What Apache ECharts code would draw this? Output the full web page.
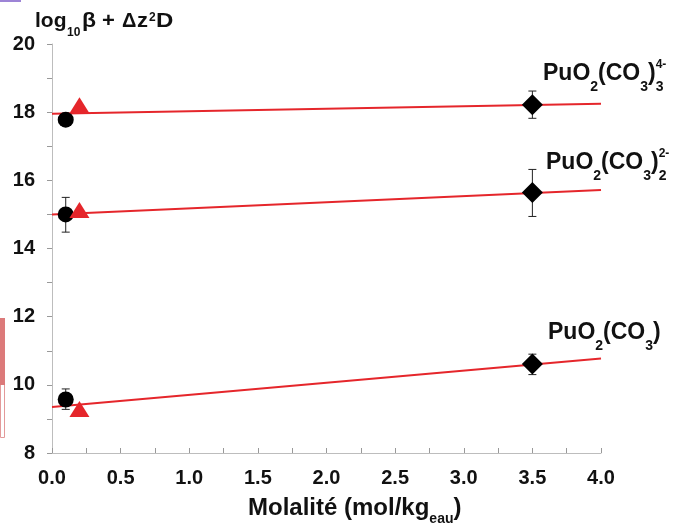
<!DOCTYPE html>
<html><head><meta charset="utf-8">
<script src="https://cdn.jsdelivr.net/npm/echarts@6/dist/echarts.min.js"></script>
<style>html,body{margin:0;padding:0;background:#fff}#c{width:692px;height:526px}</style>
</head><body><div id="c"></div>
<script>
// ---- data ----
const circleX = [0.1, 0.1, 0.1];
const circleY = [17.78, 15.0, 9.57];
const circleErrX = [0.1, 0.1];
const circleErrLo = [14.48, 9.28];
const circleErrHi = [15.5, 9.88];

const triangleX = [0.2, 0.2, 0.2];
const triangleY = [18.2, 15.13, 9.29];

const diamondX = [3.5, 3.5, 3.5];
const diamondY = [18.22, 15.64, 10.61];
const diamondErrLo = [17.82, 14.94, 10.3];
const diamondErrHi = [18.62, 16.32, 10.9];

const fitX = [0, 4];
const fitTop = [17.95, 18.25];
const fitMid = [15.0, 15.72];
const fitLow = [9.35, 10.77];

const xMin = 0, xMax = 4, xStep = 0.5;
const yMin = 8, yMax = 20, yStep = 2;

// ---- helpers ----
const FONT = '"Liberation Sans", Arial, Helvetica, sans-serif';
const ctx = document.createElement('canvas').getContext('2d');
function midOffset(s) {
  ctx.font = 'bold ' + s + 'px ' + FONT;
  const m = ctx.measureText('Hg');
  if (m.fontBoundingBoxAscent !== undefined) return (m.fontBoundingBoxAscent - m.fontBoundingBoxDescent) / 2;
  return 0.35 * s;
}
function textWidth(t, s) {
  ctx.font = 'bold ' + s + 'px ' + FONT;
  return ctx.measureText(t).width;
}
// parts: {t, s, dy, stack, at, sx}
function run(x0, baseline, parts) {
  let x = x0, prevX = x0, els = [];
  parts.forEach(p => {
    const px = p.at !== undefined ? p.at : (p.stack ? prevX : x);
    const by = baseline + (p.dy || 0);
    const sx = p.sx || 1;
    els.push({
      type: 'text', z: 100,
      x: px, y: by - midOffset(p.s), scaleX: sx,
      style: { text: p.t, fontSize: p.s, fontWeight: 'bold', fontFamily: FONT, fill: '#111', align: 'left', verticalAlign: 'middle' }
    });
    const w = textWidth(p.t, p.s) * sx;
    if (p.stack) { x = Math.max(x, px + w); }
    else { prevX = px; x = px + w; }
  });
  return els;
}

const zip = (a, b) => a.map((v, i) => [v, b[i]]);
const zip3 = (a, b, c) => a.map((v, i) => [v, b[i], c[i]]);

function errRender(params, api) {
  const x = api.value(0), lo = api.value(1), hi = api.value(2);
  const p1 = api.coord([x, hi]), p2 = api.coord([x, lo]);
  const w = 4;
  const st = { stroke: '#222', lineWidth: 1 };
  return { type: 'group', children: [
    { type: 'line', shape: { x1: p1[0], y1: p1[1], x2: p2[0], y2: p2[1] }, style: st },
    { type: 'line', shape: { x1: p1[0] - w, y1: p1[1], x2: p1[0] + w, y2: p1[1] }, style: st },
    { type: 'line', shape: { x1: p2[0] - w, y1: p2[1], x2: p2[0] + w, y2: p2[1] }, style: st }
  ]};
}

const RED = '#e5262b';
const lineSeries = (d) => ({
  type: 'line', data: zip(fitX, d), symbol: 'none', z: 2,
  lineStyle: { color: RED, width: 2 }, silent: true
});

const graphics = [].concat(
  // y axis title
  run(35, 28, [
    { t: 'log', s: 20, sx: 1.05 }, { t: '10', s: 12, dy: 9, at: 67 }, { t: 'β', s: 20, at: 82, sx: 1.15 },
    { t: '+', s: 20, at: 102, sx: 1.1 }, { t: 'Δ', s: 20, at: 122 }, { t: 'z', s: 20, at: 137, sx: 1.1 },
    { t: '2', s: 12, dy: -6, at: 149 }, { t: 'D', s: 20, at: 156, sx: 1.2 }
  ]),
  // x axis title
  run(248, 517, [
    { t: 'Molalité (mol/kg', s: 24 }, { t: 'eau', s: 14, dy: 7 }, { t: ')', s: 24 }
  ]),
  run(543, 82, [
    { t: 'PuO', s: 23 }, { t: '2', s: 14, dy: 10 }, { t: '(CO', s: 23 }, { t: '3', s: 14, dy: 10 },
    { t: ')', s: 23 }, { t: '4-', s: 12, dy: -13 }, { t: '3', s: 14, dy: 10, stack: true }
  ]),
  run(546, 171, [
    { t: 'PuO', s: 23 }, { t: '2', s: 14, dy: 10 }, { t: '(CO', s: 23 }, { t: '3', s: 14, dy: 10 },
    { t: ')', s: 23 }, { t: '2-', s: 12, dy: -13 }, { t: '2', s: 14, dy: 10, stack: true }
  ]),
  run(548, 341, [
    { t: 'PuO', s: 23 }, { t: '2', s: 14, dy: 10 }, { t: '(CO', s: 23 }, { t: '3', s: 14, dy: 10 },
    { t: ')', s: 23 }
  ]),
  [
    { type: 'rect', shape: { x: 0, y: 0, width: 21, height: 2 }, style: { fill: '#9d84d6' } },
    { type: 'rect', shape: { x: 0.5, y: 318.5, width: 4, height: 119 }, style: { fill: 'none', stroke: '#e39a9a', lineWidth: 1 } },
    { type: 'rect', shape: { x: 0, y: 318, width: 5, height: 67 }, style: { fill: '#dc7a7a' } }
  ]
);

const chart = echarts.init(document.getElementById('c'), null, { renderer: 'canvas' });
chart.setOption({
  animation: false,
  backgroundColor: '#fff',
  grid: { left: 52, right: 91, top: 44, bottom: 73, containLabel: false },
  xAxis: {
    type: 'value', min: xMin, max: xMax, interval: xStep,
    axisLine: { show: true, lineStyle: { color: '#bdbdbd', width: 1 } },
    axisTick: { show: true, inside: true, length: 5, lineStyle: { color: '#999' } },
    minorTick: { show: true, splitNumber: 2, length: 5, lineStyle: { color: '#999' } },
    splitLine: { show: false },
    axisLabel: { margin: 15, fontSize: 20, fontWeight: 'bold', fontFamily: FONT, color: '#111', formatter: v => v.toFixed(1) }
  },
  yAxis: {
    type: 'value', min: yMin, max: yMax, interval: yStep,
    axisLine: { show: true, lineStyle: { color: '#bdbdbd', width: 1 } },
    axisTick: { show: true, inside: false, length: 5, lineStyle: { color: '#999' } },
    minorTick: { show: true, splitNumber: 2, length: 5, lineStyle: { color: '#999' } },
    splitLine: { show: false },
    axisLabel: { margin: 17, fontSize: 20, fontWeight: 'bold', fontFamily: FONT, color: '#111' }
  },
  series: [
    lineSeries(fitTop), lineSeries(fitMid), lineSeries(fitLow),
    { type: 'custom', renderItem: errRender, data: zip3(circleErrX, circleErrLo, circleErrHi), z: 3, silent: true },
    { type: 'custom', renderItem: errRender, data: zip3(diamondX, diamondErrLo, diamondErrHi), z: 3, silent: true },
    { type: 'scatter', data: zip(circleX, circleY), symbol: 'circle', symbolSize: 16, itemStyle: { color: '#000', opacity: 1 }, z: 4 },
    { type: 'scatter', data: zip(triangleX, triangleY), symbol: 'triangle', symbolSize: [20, 16], itemStyle: { color: RED, opacity: 1 }, z: 5 },
    { type: 'scatter', data: zip(diamondX, diamondY), symbol: 'diamond', symbolSize: 21, itemStyle: { color: '#000', opacity: 1 }, z: 4 }
  ],
  graphic: graphics
});
</script>
</body></html>
